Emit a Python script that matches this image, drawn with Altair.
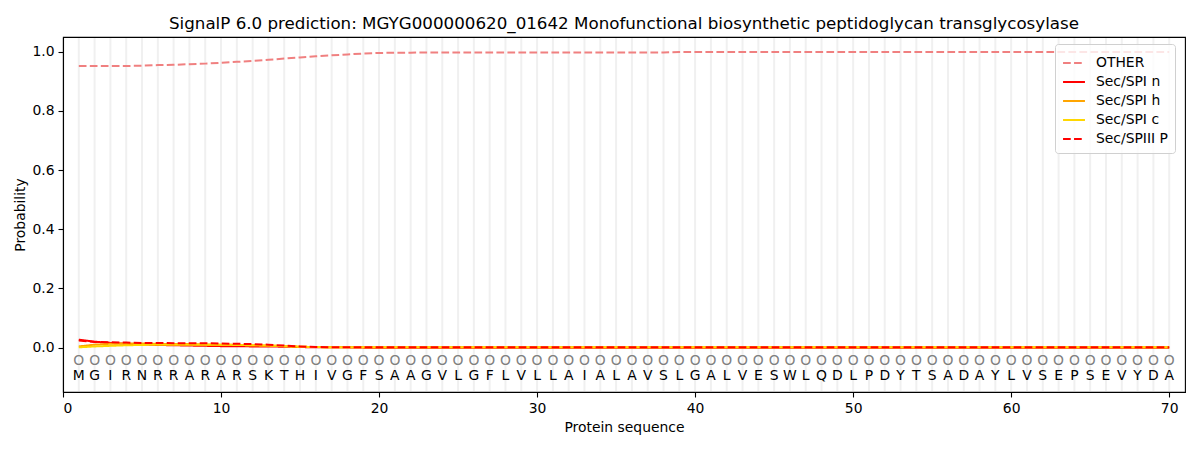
import altair as alt
import pandas as pd

positions = list(range(1, 71))
residues = list("MGIRNRRARARSKTHIVGFSAAGVLGFLVLLAIALAVSLGALVESWLQDLPDYTSADAYLVSEPSEVYDA")
pred_labels = ["O"] * 70

other = [0.952, 0.952, 0.952, 0.952, 0.953, 0.955, 0.956, 0.958, 0.960, 0.963,
         0.966, 0.969, 0.973, 0.977, 0.981, 0.985, 0.988, 0.991, 0.994, 0.996,
         0.997, 0.997, 0.998, 0.998, 0.998, 0.998, 0.998, 0.998, 0.998, 0.998,
         0.998, 0.998, 0.998, 0.998, 0.998, 0.998, 0.998, 0.998, 0.999, 0.999,
         0.999, 0.999, 0.999, 0.999, 0.999, 0.999, 0.999, 0.999, 0.999, 0.999,
         0.999, 0.999, 0.999, 0.999, 0.999, 0.999, 0.999, 0.999, 0.999, 0.999,
         0.999, 0.999, 0.999, 0.999, 0.999, 0.999, 0.999, 0.999, 0.999, 0.999]
sp_n = [0.027, 0.020, 0.016, 0.013, 0.011, 0.009, 0.008, 0.007, 0.006, 0.005,
        0.005, 0.004, 0.004, 0.003, 0.002, 0.001, 0.001, 0.001, 0.000, 0.000,
        0.000, 0.000, 0.000, 0.000, 0.000, 0.000, 0.000, 0.000, 0.000, 0.000,
        0.000, 0.000, 0.000, 0.000, 0.000, 0.000, 0.000, 0.000, 0.000, 0.000,
        0.000, 0.000, 0.000, 0.000, 0.000, 0.000, 0.000, 0.000, 0.000, 0.000,
        0.000, 0.000, 0.000, 0.000, 0.000, 0.000, 0.000, 0.000, 0.000, 0.000,
        0.000, 0.000, 0.000, 0.000, 0.000, 0.000, 0.000, 0.000, 0.000, 0.000]
sp_h = [0.004, 0.010, 0.013, 0.014, 0.014, 0.013, 0.012, 0.012, 0.011, 0.010,
        0.009, 0.008, 0.007, 0.005, 0.003, 0.002, 0.001, 0.001, 0.001, 0.001,
        0.001, 0.001, 0.001, 0.001, 0.001, 0.001, 0.001, 0.001, 0.001, 0.001,
        0.001, 0.001, 0.001, 0.001, 0.001, 0.001, 0.001, 0.001, 0.001, 0.001,
        0.001, 0.001, 0.001, 0.001, 0.001, 0.001, 0.001, 0.001, 0.001, 0.001,
        0.001, 0.001, 0.001, 0.001, 0.001, 0.001, 0.001, 0.001, 0.001, 0.001,
        0.001, 0.001, 0.001, 0.001, 0.001, 0.001, 0.001, 0.001, 0.001, 0.001]
sp_c = [0.001, 0.004, 0.006, 0.008, 0.009, 0.010, 0.010, 0.010, 0.010, 0.010,
        0.009, 0.008, 0.007, 0.005, 0.003, 0.002, 0.001, 0.001, 0.001, 0.001,
        0.001, 0.001, 0.001, 0.001, 0.001, 0.001, 0.001, 0.001, 0.001, 0.001,
        0.001, 0.001, 0.001, 0.001, 0.001, 0.001, 0.001, 0.001, 0.001, 0.001,
        0.001, 0.001, 0.001, 0.001, 0.001, 0.001, 0.001, 0.001, 0.001, 0.001,
        0.001, 0.001, 0.001, 0.001, 0.001, 0.001, 0.001, 0.001, 0.001, 0.001,
        0.001, 0.001, 0.001, 0.001, 0.001, 0.001, 0.001, 0.001, 0.001, 0.001]
sp_p = [0.024, 0.019, 0.018, 0.017, 0.016, 0.016, 0.015, 0.015, 0.015, 0.014,
        0.013, 0.012, 0.010, 0.007, 0.004, 0.002, 0.001, 0.001, 0.001, 0.001,
        0.001, 0.001, 0.001, 0.001, 0.001, 0.001, 0.001, 0.001, 0.001, 0.001,
        0.001, 0.001, 0.001, 0.001, 0.001, 0.001, 0.001, 0.001, 0.001, 0.001,
        0.001, 0.001, 0.001, 0.001, 0.001, 0.001, 0.001, 0.001, 0.001, 0.001,
        0.001, 0.001, 0.001, 0.001, 0.001, 0.001, 0.001, 0.001, 0.001, 0.001,
        0.001, 0.001, 0.001, 0.001, 0.001, 0.001, 0.001, 0.001, 0.001, 0.001]

series_names = ["OTHER", "Sec/SPI n", "Sec/SPI h", "Sec/SPI c", "Sec/SPIII P"]
series_colors = ["#f08080", "#ff0000", "#ffa500", "#ffd700", "#ff0000"]
series_dash = [[7.7, 3.3], [1, 0], [1, 0], [1, 0], [7.7, 3.3]]
x_ticks = [0, 10, 20, 30, 40, 50, 60, 70]
y_ticks = [0.0, 0.2, 0.4, 0.6, 0.8, 1.0]
title_text = "SignalP 6.0 prediction: MGYG000000620_01642 Monofunctional biosynthetic peptidoglycan transglycosylase"

rows = []
for name, vals in zip(series_names, [other, sp_n, sp_h, sp_c, sp_p]):
    for p, v in zip(positions, vals):
        rows.append({"pos": p, "prob": v, "series": name})
lines_df = pd.DataFrame(rows)
seq_df = pd.DataFrame({"pos": positions, "res": residues, "lab": pred_labels,
                       "ylab": [-0.045] * 70, "yres": [-0.097] * 70})

FONT = "DejaVu Sans"
xscale = alt.Scale(domain=[0, 71], nice=False, zero=False)
yscale = alt.Scale(domain=[-0.15, 1.05], nice=False, zero=False)

xaxis = alt.Axis(values=x_ticks, title="Protein sequence", format="d", grid=False,
                 tickSize=5, labelPadding=4, titlePadding=6)
yaxis = alt.Axis(values=y_ticks, title="Probability", format=".1f", grid=False,
                 tickSize=5, labelPadding=4, titlePadding=4)

grid = alt.Chart(seq_df).mark_rule(color="#f0f0f0", strokeWidth=2).encode(
    x=alt.X("pos:Q", scale=xscale, axis=xaxis),
    y=alt.value(1), y2=alt.value(354)
)

legend = alt.Legend(title=None, orient="none", legendX=992, legendY=7,
                    symbolType="stroke", symbolSize=480, symbolStrokeWidth=2,
                    labelFontSize=13.9, labelFont=FONT, rowPadding=0,
                    padding=7, fillColor="rgba(255,255,255,0.8)",
                    strokeColor="#d0d0d0", cornerRadius=3, labelOffset=10)

color = alt.Color("series:N", scale=alt.Scale(domain=series_names, range=series_colors), legend=legend)
dash = alt.StrokeDash("series:N", scale=alt.Scale(domain=series_names, range=series_dash), legend=legend)

line_layers = []
for name in series_names:
    line_layers.append(
        alt.Chart(lines_df).transform_filter(alt.datum.series == name)
        .mark_line(strokeWidth=2)
        .encode(x=alt.X("pos:Q", scale=xscale, axis=xaxis),
                y=alt.Y("prob:Q", scale=yscale, axis=yaxis),
                color=color, strokeDash=dash)
    )

labs = alt.Chart(seq_df).mark_text(fontSize=13.9, font=FONT, color="#808080", baseline="middle").encode(
    x=alt.X("pos:Q", scale=xscale), y=alt.Y("ylab:Q", scale=yscale), text="lab:N")
res = alt.Chart(seq_df).mark_text(fontSize=13.9, font=FONT, color="#000000", baseline="middle").encode(
    x=alt.X("pos:Q", scale=xscale), y=alt.Y("yres:Q", scale=yscale), text="res:N")

chart = alt.layer(grid, *line_layers, labs, res).properties(
    width=1122, height=355,
    title=alt.TitleParams(title_text, fontSize=16.7, font=FONT, fontWeight="normal",
                          anchor="middle", offset=4, color="#000000"),
    autosize=alt.AutoSizeParams(type="none"),
    padding={"left": 55, "top": 29, "right": 3, "bottom": 50},
).configure_axis(
    labelFont=FONT, titleFont=FONT, labelFontSize=13.9, titleFontSize=13.9,
    titleFontWeight="normal", domainColor="#000000", tickColor="#000000",
    labelColor="#000000", titleColor="#000000", domainWidth=1.1, tickWidth=1.1
).configure_view(stroke="#000000", strokeWidth=1.1)

chart.save("out.html", embed_options={"renderer": "svg", "actions": False})
